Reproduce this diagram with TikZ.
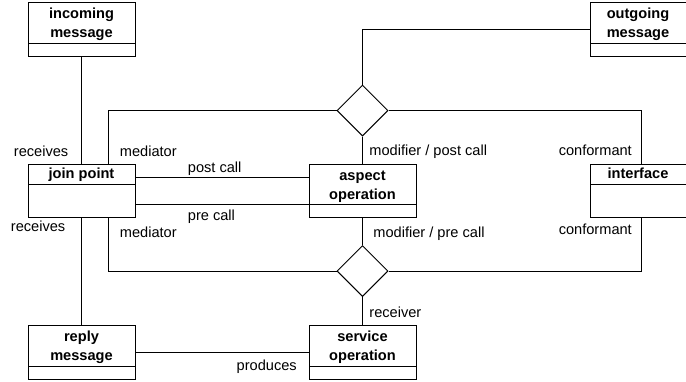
\documentclass[tikz,border=0pt]{standalone}
\usepackage{fontspec}
\setmainfont{Liberation Sans}
\usepackage{tikz}
\usetikzlibrary{shapes.geometric,positioning}

\begin{document}
\begin{tikzpicture}[
  % #1 = hauteur du nom, #2 = hauteur totale
  cls/.style 2 args={rectangle,draw,line width=0.5pt,minimum width=53.5pt,
              inner xsep=2pt,inner ysep=1.8pt,align=center,
              text height=#1-4.5pt,text depth=#2-#1+0.9pt,
              font=\fontsize{7.3pt}{9.5pt}\selectfont\bfseries,
              path picture={\draw[line width=0.5pt]
                ([yshift=-#1]path picture bounding box.north west) --
                ([yshift=-#1]path picture bounding box.north east);}},
  choice/.style={diamond,draw,line width=0.5pt,minimum width=25.5pt,
                 minimum height=25.5pt,inner sep=0pt},
  lbl/.style={font=\fontsize{7.3pt}{9.5pt}\selectfont,inner sep=0pt},
  link/.style={line width=0.5pt}
]
  \useasboundingbox (0,0) rectangle (343pt,-190.5pt);

  % Centre
  \node[cls={20.25pt}{26.75pt}] (asp) at (181.25pt,-95.4pt) {aspect\\operation};

  % Gauche / droite
  \node[cls={10pt}{26.5pt},left=86.5pt of asp] (jp) {join point};
  \node[cls={10pt}{26.5pt},minimum width=48pt,right=86.5pt of asp]
    (ifc) {interface};

  % Haut
  \node[cls={20.25pt}{26.75pt},above=53.5pt of jp] (inc) {incoming\\message};
  \node[cls={20.25pt}{26.75pt},minimum width=48pt,above=53.5pt of ifc]
    (out) {outgoing\\message};

  % Bas
  \node[cls={20.25pt}{26.75pt},below=53.5pt of asp] (srv) {service\\operation};
  \node[cls={20.25pt}{26.75pt},left=86.5pt of srv] (rep) {reply\\message};

  % Losanges
  \node[choice,above=13.5pt of asp] (dtop) {};
  \node[choice,below=13.5pt of asp] (dbot) {};

  % Liens
  \draw[link] (inc) -- (jp);
  \draw[link] (jp) -- (rep);
  \draw[link] (rep) -- (srv);
  \draw[link] (dtop.north) |- (out.west);
  \draw[link] (dtop.west) -| ([xshift=13.25pt]jp.north);
  \draw[link] (dtop.east) -| ([xshift=1.5pt]ifc.north);
  \draw[link] (dtop) -- (asp);
  \draw[link] (dbot) -- (asp);
  \draw[link] (dbot) -- (srv);
  \draw[link] (dbot.west) -| ([xshift=13.25pt]jp.south);
  \draw[link] (dbot.east) -| ([xshift=1.5pt]ifc.south);
  \draw[link] ([yshift=6.5pt]jp.east) -- ([yshift=6.5pt]jp.east -| asp.west);
  \draw[link] ([yshift=-7pt]jp.east) -- ([yshift=-7pt]jp.east -| asp.west);

  % Roles
  \node[lbl,anchor=base west] (l1) at ([shift={(-7pt,3.75pt)}]jp.north west) {receives};
  \node[lbl,anchor=base west] (l2) at ([shift={(-8pt,3.75pt)}]jp.north east) {mediator};
  \node[lbl,anchor=base west] (l3) at ([shift={(-8.5pt,-6.6pt)}]jp.south west) {receives};
  \node[lbl,anchor=base west] (l4) at ([shift={(-8pt,-9.7pt)}]jp.south east) {mediator};
  \node[lbl,anchor=base west] (l5) at ([shift={(26pt,9.1pt)}]jp.east) {post call};
  \node[lbl,anchor=base west] (l6) at ([shift={(26pt,-14.75pt)}]jp.east) {pre call};
  \node[lbl,anchor=base west] (l7) at ([shift={(3.25pt,4pt)}]asp.north) {modifier / post call};
  \node[lbl,anchor=base west] (l8) at ([shift={(5.25pt,-9.85pt)}]asp.south) {modifier / pre call};
  \node[lbl,anchor=base east] (l9) at ([shift={(21.35pt,4.15pt)}]ifc.north west) {conformant};
  \node[lbl,anchor=base east] (l10) at ([shift={(21.35pt,-8.5pt)}]ifc.south west) {conformant};
  \node[lbl,anchor=base west] (l11) at ([shift={(3.25pt,3.65pt)}]srv.north) {receiver};
  \node[lbl,anchor=base east] (l12) at ([shift={(-5.65pt,-9pt)}]srv.west) {produces};

\end{tikzpicture}
\end{document}
